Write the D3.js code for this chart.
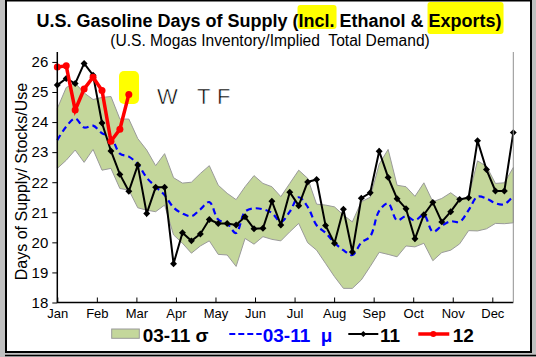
<!DOCTYPE html>
<html><head><meta charset="utf-8">
<script src="https://cdn.jsdelivr.net/npm/d3@7"></script>
<style>
body{margin:0;background:#c0c0c0}
svg{display:block}
text{font-family:Arial,"Liberation Sans",sans-serif}
</style>
</head><body>
<svg id="c" width="536" height="357"></svg>
<script>
// ---- data ----
const months = ["Jan","Feb","Mar","Apr","May","Jun","Jul","Aug","Sep","Oct","Nov","Dec"];
const weeks = d3.range(1, 53);
const yTicks = [18,19,20,21,22,23,24,25,26];
const band03_11Upper = [24.45,25.15,25.30,24.97,24.75,24.82,24.85,24.10,24.10,23.45,
  23.07,22.55,22.95,22.15,21.97,22.00,22.29,22.55,21.90,21.63,
  21.42,21.85,22.22,21.96,21.85,21.52,21.96,22.40,22.13,21.27,
  21.24,21.18,20.91,20.68,21.35,21.50,22.60,23.09,21.90,21.85,
  21.53,21.98,21.35,21.46,21.65,21.43,21.52,22.71,22.53,21.96,
  21.98,22.49];
const band03_11Lower = [22.46,22.73,23.07,22.66,23.09,22.40,22.46,21.79,21.74,21.15,
  21.07,21.02,21.24,20.25,19.97,19.64,19.88,20.05,19.60,19.58,
  19.20,20.13,19.94,20.19,20.10,20.05,20.35,20.63,19.99,19.74,
  19.30,18.86,18.47,18.47,18.75,19.20,19.67,19.60,19.52,19.88,
  19.85,19.97,19.39,19.66,19.74,19.95,20.39,20.38,20.45,20.63,
  20.62,20.65];
const mean03_11 = [23.40,23.85,24.12,23.82,23.88,23.63,23.50,22.95,22.85,22.60,
  22.15,21.85,21.57,21.16,20.96,20.87,21.10,21.34,20.76,20.62,
  20.31,21.02,21.13,21.10,20.98,20.68,21.02,21.50,21.18,20.57,
  20.32,19.99,19.74,19.58,19.99,20.20,21.05,21.30,20.73,20.87,
  20.73,20.91,20.35,20.55,20.70,20.68,21.07,21.52,21.46,21.30,
  21.27,21.55];
const series2011 = [25.23,25.45,25.28,25.95,25.56,23.97,23.04,22.26,21.70,22.57,
  20.96,21.83,21.83,19.29,20.32,20.05,20.28,20.76,20.63,20.63,
  20.58,20.85,20.45,20.47,21.37,20.58,21.67,21.22,22.01,22.09,
  20.56,19.97,21.10,19.68,21.47,21.65,23.03,22.16,21.45,21.12,
  20.12,20.92,21.33,20.68,21.02,21.43,21.48,23.38,22.42,21.71,
  21.71,23.65];
const series2012 = [25.83,25.87,24.40,25.10,25.49,25.05,23.36,23.76,24.92];

// ---- layout ----
const svg = d3.select("#c");
const L = 57.3, R = 513.3, T = 52, B = 302.5;
svg.append("rect").attr("x",6).attr("y",0.5).attr("width",525).attr("height",351.5)
  .attr("fill","#fff").attr("stroke","#000").attr("stroke-width",2);
svg.append("line").attr("x1",5).attr("x2",536).attr("y1",355.5).attr("y2",355.5)
  .attr("stroke","#000").attr("stroke-width",1.5);

// title
const tg = svg.append("g");
const tstr = "U.S. Gasoline Days of Supply (Incl. Ethanol & Exports)";
const title = tg.append("text").attr("x",269).attr("y",27).attr("text-anchor","middle")
  .attr("font-weight","bold").attr("font-size",18).attr("fill","#000").text(tstr);
const tn = title.node();
function hl(s, e, y0, y1){
  const x0 = tn.getStartPositionOfChar(s).x, x1 = tn.getEndPositionOfChar(e).x;
  tg.insert("rect","text").attr("x",x0-1).attr("y",y0).attr("width",x1-x0+3).attr("height",y1-y0)
    .attr("rx",3).attr("fill","#ffff00");
}
const iI = tstr.indexOf("Incl.");
hl(iI, iI+4, 5, 29);
const iE = tstr.indexOf("Exports)");
hl(iE, iE+7, 2, 34);
svg.append("text").attr("x",270).attr("y",46).attr("text-anchor","middle")
  .attr("font-size",15.6).attr("fill","#000").style("white-space","pre")
  .text("(U.S. Mogas Inventory/Implied  Total Demand)");

// scales
const x = d3.scaleLinear().domain([1,52]).range([L,R]);
const y = d3.scaleLinear().domain([18,26.33]).range([B,T]);
const xm = d3.scalePoint().domain(months).range([L,492.3]);

// band
const bandData = weeks.map((w,i)=>({w, lo:band03_11Lower[i], hi:band03_11Upper[i]}));
svg.append("path").datum(bandData)
  .attr("d", d3.area().x(d=>x(d.w)).y0(d=>y(d.lo)).y1(d=>y(d.hi)))
  .attr("fill","#c4d79b").attr("stroke","#9a9a9a").attr("stroke-width",1);

// mean
svg.append("path").datum(weeks.map((w,i)=>[w,mean03_11[i]]))
  .attr("d", d3.line().x(d=>x(d[0])).y(d=>y(d[1])).curve(d3.curveCatmullRom.alpha(0.5)))
  .attr("fill","none").attr("stroke","#0000ff").attr("stroke-width",2.2).attr("stroke-dasharray","6,4");

// yellow box annotation
svg.append("rect").attr("x",119).attr("y",71).attr("width",20).attr("height",33).attr("rx",5)
  .attr("fill","#ffff00");

// WTF (handwritten note) - slightly thinned with a white outline
svg.append("text").attr("font-family","'DejaVu Sans', sans-serif")
  .attr("font-size",22).attr("fill","#000").attr("stroke","#fff").attr("stroke-width",0.55)
  .attr("x","157 197 217").attr("y",104).text("WTF");

// 2011
const d11 = weeks.map((w,i)=>[w,series2011[i]]);
svg.append("path").datum(d11)
  .attr("d", d3.line().x(d=>x(d[0])).y(d=>y(d[1])))
  .attr("fill","none").attr("stroke","#000").attr("stroke-width",2);
svg.append("g").selectAll("path").data(d11).join("path")
  .attr("d", d3.symbol(d3.symbolSquare, 24))
  .attr("transform", d=>`translate(${x(d[0])},${y(d[1])}) rotate(45)`).attr("fill","#000");

// 2012
const d12 = series2012.map((v,i)=>[weeks[i],v]);
svg.append("path").datum(d12)
  .attr("d", d3.line().x(d=>x(d[0])).y(d=>y(d[1])))
  .attr("fill","none").attr("stroke","#ff0000").attr("stroke-width",3.5);
svg.append("g").selectAll("circle").data(d12).join("circle")
  .attr("cx", d=>x(d[0])).attr("cy", d=>y(d[1])).attr("r",3.5).attr("fill","#ff0000");

// axes
const ya = svg.append("g").attr("transform",`translate(${L},0)`)
  .call(d3.axisLeft(y).tickValues(yTicks).tickSize(5).tickPadding(4).tickFormat(d3.format("d")));
ya.select(".domain").remove();
ya.selectAll("text").attr("font-size",15).attr("font-family","Arial, Liberation Sans").attr("fill","#000");
ya.selectAll("line").attr("stroke","#000");
const xa = svg.append("g").attr("transform",`translate(0,${B})`)
  .call(d3.axisBottom(xm).tickSizeInner(-5).tickSizeOuter(0).tickPadding(6));
xa.select(".domain").remove();
xa.selectAll("text").attr("font-size",13).attr("font-family","Arial, Liberation Sans").attr("fill","#000");
xa.selectAll("line").attr("stroke","#000");
svg.append("line").attr("x1",L).attr("x2",L).attr("y1",T).attr("y2",B+0.5).attr("stroke","#000").attr("stroke-width",1.5);
svg.append("line").attr("x1",L).attr("x2",R).attr("y1",B).attr("y2",B).attr("stroke","#000").attr("stroke-width",1.5);
svg.append("line").attr("x1",R).attr("x2",R).attr("y1",T).attr("y2",B).attr("stroke","#909090").attr("stroke-width",1);

svg.append("text").attr("transform","translate(27,181.5) rotate(-90)").attr("text-anchor","middle")
  .attr("font-size",16).attr("fill","#000").text("Days of Supply/ Stocks/Use");

// legend
const lg = svg.append("g");
lg.append("rect").attr("x",111.7).attr("y",329).attr("width",27.6).attr("height",9.3)
  .attr("fill","#c4d79b").attr("stroke","#9a9a9a");
lg.append("text").attr("x",142.7).attr("y",341.7).attr("font-weight","bold").attr("font-size",19)
  .attr("fill","#000").text("03-11 σ");
lg.append("line").attr("x1",229.3).attr("x2",261.7).attr("y1",334).attr("y2",334)
  .attr("stroke","#0000ff").attr("stroke-width",2.2).attr("stroke-dasharray","6,3");
lg.append("text").attr("x",262.7).attr("y",341.7).attr("font-weight","bold").attr("font-size",19)
  .style("white-space","pre").attr("fill","#0000ff").text("03-11  μ");
lg.append("line").attr("x1",348.3).attr("x2",378.3).attr("y1",334).attr("y2",334)
  .attr("stroke","#000").attr("stroke-width",2);
lg.append("path").attr("d", d3.symbol(d3.symbolSquare, 18)).attr("transform","translate(363.3,334) rotate(45)");
lg.append("text").attr("x",380).attr("y",341.7).attr("font-weight","bold").attr("font-size",19)
  .attr("fill","#000").text("11");
lg.append("line").attr("x1",418.3).attr("x2",449.3).attr("y1",334).attr("y2",334)
  .attr("stroke","#ff0000").attr("stroke-width",3.5);
lg.append("circle").attr("cx",433.3).attr("cy",334).attr("r",3).attr("fill","#ff0000");
lg.append("text").attr("x",452.7).attr("y",341.7).attr("font-weight","bold").attr("font-size",19)
  .attr("fill","#000").text("12");
</script></body></html>
